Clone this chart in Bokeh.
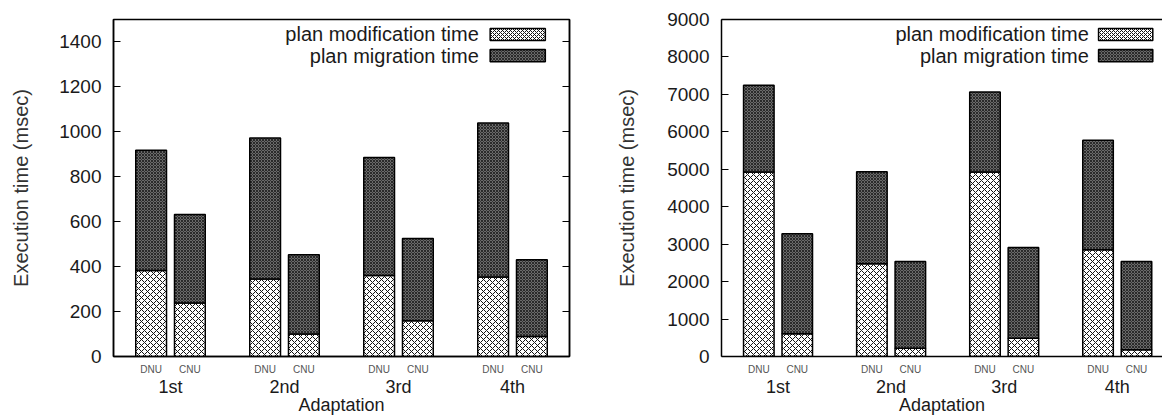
from bokeh.plotting import figure
from bokeh.layouts import row
from bokeh.models import Range1d, LinearAxis, FixedTicker, Label, CustomJSTickFormatter
from bokeh.embed import file_html
from bokeh.resources import INLINE

# ---------------- data ----------------
adaptations = ["1st", "2nd", "3rd", "4th"]
methods = ["DNU", "CNU"]
series_names = ["plan modification time", "plan migration time"]

# left chart (msec)
left_dnu_mod = [383, 345, 360, 354]
left_dnu_mig = [535, 627, 526, 685]
left_cnu_mod = [238, 100, 159, 89]
left_cnu_mig = [394, 353, 366, 342]
left_yticks = [0, 200, 400, 600, 800, 1000, 1200, 1400]

# right chart (msec)
right_dnu_mod = [4930, 2477, 4928, 2851]
right_dnu_mig = [2315, 2460, 2138, 2923]
right_cnu_mod = [606, 223, 490, 178]
right_cnu_mig = [2673, 2317, 2424, 2362]
right_yticks = [0, 1000, 2000, 3000, 4000, 5000, 6000, 7000, 8000, 9000]

# ---------------- style ----------------
FONT = "Liberation Sans"
TXT = "#1a1a1a"
OFFSET = 0.17
BAR_W = 0.27
MOD_STYLE = dict(fill_color="white", hatch_pattern="x", hatch_color="#111111",
                 hatch_scale=6, hatch_weight=1.0, line_color="black", line_width=1.5)
MIG_STYLE = dict(fill_color="#6a6a6a", hatch_pattern="x", hatch_color="#2a2a2a",
                 hatch_scale=3, hatch_weight=1.0, line_color="black", line_width=1.5)


def make_chart(dnu_mod, dnu_mig, cnu_mod, cnu_mig, yticks, ymax, x_end,
               border_left, border_right, frame_width, full_frame, leg, ylab_standoff):
    p = figure(frame_width=frame_width, frame_height=337,
               x_range=Range1d(0.5, x_end), y_range=Range1d(0, ymax),
               x_axis_type=None, output_backend="svg", toolbar_location=None,
               min_border_left=border_left, min_border_right=border_right,
               min_border_top=19, min_border_bottom=50)
    p.grid.visible = False
    p.background_fill_color = "white"
    p.border_fill_color = "white"

    # bars
    for k, (mods, migs) in enumerate([(dnu_mod, dnu_mig), (cnu_mod, cnu_mig)]):
        off = -OFFSET if k == 0 else OFFSET
        xs = [i + 1 + off for i in range(len(adaptations))]
        tops = [m + g for m, g in zip(mods, migs)]
        p.vbar(x=xs, bottom=0, top=mods, width=BAR_W, **MOD_STYLE)
        p.vbar(x=xs, bottom=mods, top=tops, width=BAR_W, **MIG_STYLE)

    # y axis
    ya = p.yaxis[0]
    ya.ticker = FixedTicker(ticks=yticks)
    ya.minor_tick_line_color = None
    ya.major_tick_in = 7
    ya.major_tick_out = 0
    ya.major_tick_line_color = "black"
    ya.major_tick_line_width = 1.2
    ya.axis_line_color = "black"
    ya.axis_line_width = 1.5
    ya.major_label_standoff = 12
    ya.major_label_text_font = FONT
    ya.major_label_text_font_size = "19px"
    ya.major_label_text_color = TXT
    ya.axis_label = "Execution time (msec)"
    ya.axis_label_text_font = FONT
    ya.axis_label_text_font_size = "20px"
    ya.axis_label_text_font_style = "normal"
    ya.axis_label_text_color = "#333333"
    ya.axis_label_standoff = ylab_standoff

    if full_frame:
        p.outline_line_color = "black"
        p.outline_line_width = 1.5
        ra = LinearAxis(ticker=FixedTicker(ticks=yticks),
                        formatter=CustomJSTickFormatter(code="return ''"),
                        major_tick_in=7, major_tick_out=0, major_label_standoff=0,
                        minor_tick_line_color=None, axis_line_color="black",
                        axis_line_width=1.5, major_tick_line_width=1.2)
        p.add_layout(ra, "right")
    else:
        p.outline_line_color = None
        ta = LinearAxis(ticker=FixedTicker(ticks=[]), axis_line_color="black",
                        axis_line_width=1.5, major_tick_line_color=None,
                        minor_tick_line_color=None, major_label_standoff=0)
        p.add_layout(ta, "above")

    # method labels (DNU / CNU)
    sub_ticks, sub_over = [], {}
    for i in range(len(adaptations)):
        for k, mname in enumerate(methods):
            pos = i + 1 + (-OFFSET if k == 0 else OFFSET)
            sub_ticks.append(pos)
            sub_over[pos] = mname
    ax1 = LinearAxis(ticker=FixedTicker(ticks=sub_ticks), major_label_overrides=sub_over,
                     axis_line_color="black", axis_line_width=1.5,
                     major_tick_line_color=None, minor_tick_line_color=None,
                     major_label_standoff=1, major_label_text_font=FONT,
                     major_label_text_font_size="10px", major_label_text_color="#555555")
    p.add_layout(ax1, "below")

    grp_ticks = [i + 1 for i in range(len(adaptations))]
    grp_over = {t: a for t, a in zip(grp_ticks, adaptations)}
    ax2 = LinearAxis(ticker=FixedTicker(ticks=grp_ticks), major_label_overrides=grp_over,
                     axis_line_color=None, major_tick_line_color=None,
                     minor_tick_line_color=None, major_label_standoff=-7,
                     major_label_text_font=FONT, major_label_text_font_size="18px",
                     major_label_text_color=TXT,
                     axis_label="Adaptation", axis_label_text_font=FONT,
                     axis_label_text_font_size="18px", axis_label_text_font_style="normal",
                     axis_label_text_color=TXT, axis_label_standoff=-5)
    p.add_layout(ax2, "below")

    # legend (text on the left, swatch on the right, like gnuplot)
    x0, x1 = 0.5, x_end
    def fx(f):
        return x0 + f * (x1 - x0)
    def fy(f):
        return ymax * (1 - f)
    txt_x, sw_l, sw_r = leg
    rows = [0.0445, 0.107]
    half = 0.018
    for name, style, rf in zip(series_names, [MOD_STYLE, MIG_STYLE], rows):
        p.add_layout(Label(x=fx(txt_x), y=fy(rf), text=name, text_align="right",
                           text_baseline="middle", text_font=FONT,
                           text_font_size="20px", text_color=TXT))
        sty = dict(style)
        sty["hatch_scale"] = max(3, style["hatch_scale"] - 2)
        p.quad(left=[fx(sw_l)], right=[fx(sw_r)], bottom=[fy(rf + half)],
               top=[fy(rf - half)], **sty)
    return p


left = make_chart(left_dnu_mod, left_dnu_mig, left_cnu_mod, left_cnu_mig,
                  left_yticks, 1500, 4.5, 113, 10, 456, True,
                  (0.801, 0.826, 0.947), 24)
right = make_chart(right_dnu_mod, right_dnu_mig, right_cnu_mod, right_cnu_mig,
                   right_yticks, 9000, 4.40, 142, 0, 441, False,
                   (0.833, 0.855, 0.978), 26)

layout = row(left, right, spacing=0)
open("out.html", "w").write(file_html(layout, INLINE))
